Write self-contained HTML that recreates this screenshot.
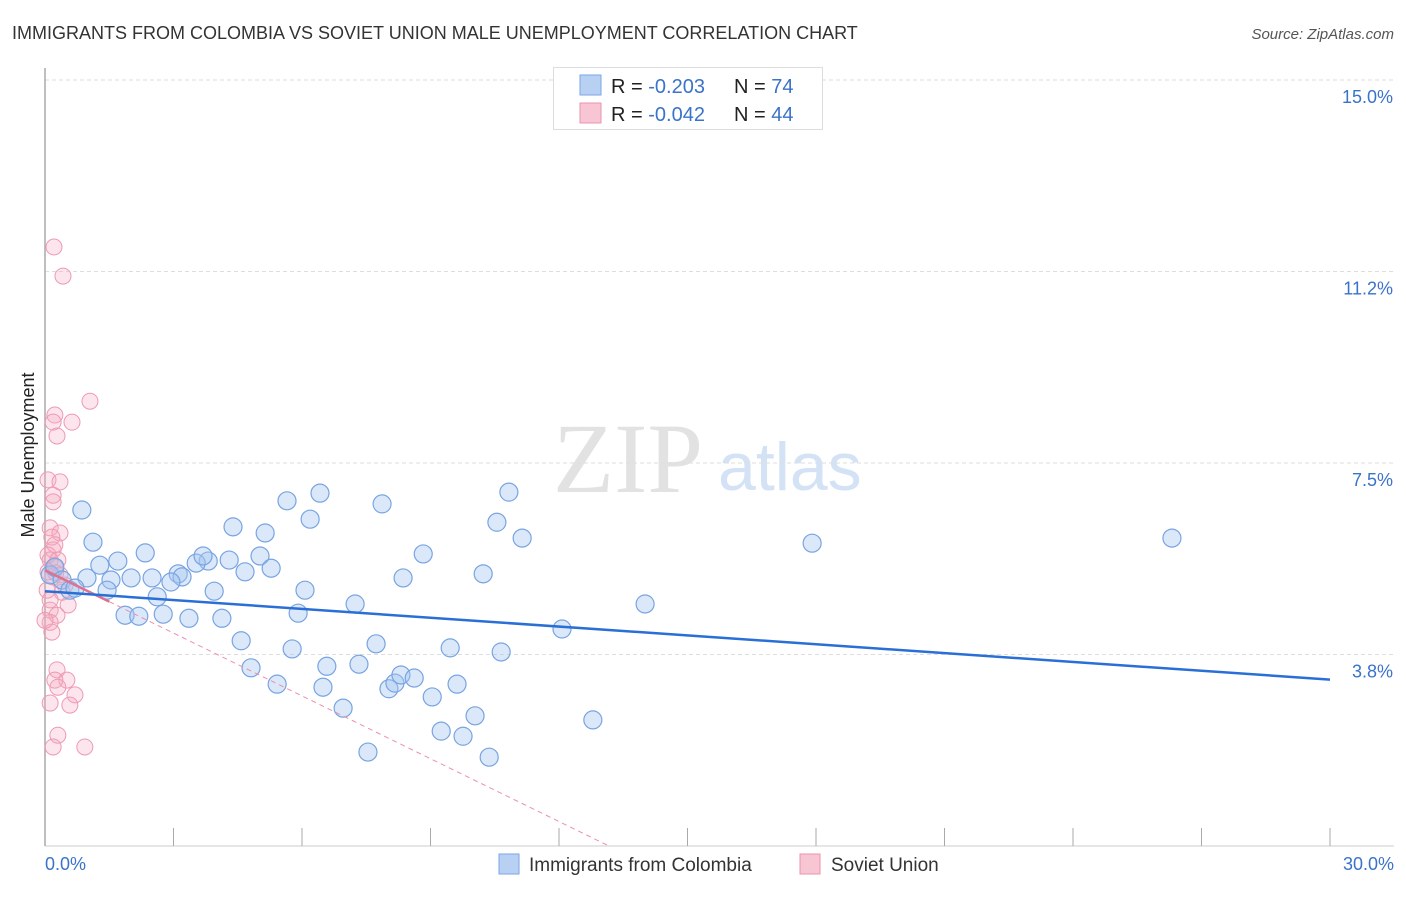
<!DOCTYPE html>
<html><head><meta charset="utf-8"><style>
body{margin:0;background:#fff;font-family:"Liberation Sans",sans-serif;}
svg text{font-family:"Liberation Sans",sans-serif;}
</style></head><body>
<svg id="chart" width="1406" height="892">
<text x="12" y="39" font-size="18" fill="#333">IMMIGRANTS FROM COLOMBIA VS SOVIET UNION MALE UNEMPLOYMENT CORRELATION CHART</text>
<text x="1394" y="39" font-size="15" fill="#555" font-style="italic" text-anchor="end">Source: ZipAtlas.com</text>
<text x="553" y="492" font-size="100" fill="#e2e2e2" style="font-family:'Liberation Serif',serif">ZIP</text>
<text x="718" y="490" font-size="68" fill="#d4e2f5">atlas</text>
<g id="grid"></g>
<line x1="45" y1="68" x2="45" y2="846" stroke="#aaa" stroke-width="1.5"/>
<line x1="45" y1="846" x2="1394" y2="846" stroke="#ccc"/>
<g id="xticks"></g>
<text x="34" y="455" font-size="18" fill="#222" text-anchor="middle" transform="rotate(-90 34 455)">Male Unemployment</text>
<g id="pinkpts"></g><g id="bluepts"></g><g id="lines"></g>
<g>
<rect x="553.5" y="67.5" width="269" height="62" fill="#fff" stroke="#ddd"/>
<rect x="580" y="75" width="21" height="20" fill="#b8d1f3" stroke="#7aa6e6"/>
<text x="611" y="93" font-size="20" fill="#222">R = <tspan fill="#3a73c9">-0.203</tspan></text>
<text x="734" y="93" font-size="20" fill="#222">N = <tspan fill="#3a73c9">74</tspan></text>
<rect x="580" y="103" width="21" height="20" fill="#f7c5d3" stroke="#ee93ad"/>
<text x="611" y="121" font-size="20" fill="#222">R = <tspan fill="#3a73c9">-0.042</tspan></text>
<text x="734" y="121" font-size="20" fill="#222">N = <tspan fill="#3a73c9">44</tspan></text>
</g>
<text x="45" y="870" font-size="18" fill="#3a73c9">0.0%</text>
<text x="1394" y="870" font-size="18" fill="#3a73c9" text-anchor="end">30.0%</text>
<rect x="499" y="854" width="20" height="20" fill="#b8d1f3" stroke="#7aa6e6"/>
<text x="529" y="871" font-size="19" fill="#333">Immigrants from Colombia</text>
<rect x="800" y="854" width="20" height="20" fill="#f7c5d3" stroke="#ee93ad"/>
<text x="831" y="871" font-size="19" fill="#333">Soviet Union</text>
</svg>
<script>
const yTicks=[15.0,11.25,7.5,3.75];
const yTickLabels=["15.0%","11.2%","7.5%","3.8%"];
const xTicks=[0,3,6,9,12,15,18,21,24,27,30];
const blueX=[0.86,1.12,1.28,1.70,2.34,1.54,0.98,2.01,2.50,3.11,3.20,2.94,2.62,1.87,2.19,2.76,3.36,4.13,3.81,3.53,4.30,3.69,4.39,5.14,4.67,5.02,5.28,3.95,5.65,6.19,6.42,6.07,5.91,4.58,4.81,5.42,5.77,6.58,6.49,6.96,7.24,7.33,7.54,7.73,7.87,8.03,8.17,8.31,8.62,8.36,8.83,9.04,9.25,9.46,9.62,9.76,10.04,10.23,10.37,10.55,10.65,10.83,11.14,12.07,12.79,14.01,17.91,26.31,0.12,0.23,0.40,0.58,0.70,1.45];
const blueY=[6.58,5.95,5.50,5.58,5.74,5.21,5.25,5.25,5.25,5.33,5.27,5.17,4.88,4.52,4.50,4.54,4.46,4.46,5.58,5.54,5.60,5.68,6.25,6.13,5.37,5.68,5.44,4.99,6.76,6.40,6.91,5.01,4.56,4.02,3.49,3.17,3.86,3.52,3.11,2.70,4.74,3.56,1.84,3.96,6.70,3.08,3.19,3.35,3.29,5.25,5.72,2.92,2.25,3.88,3.17,2.15,2.55,5.33,1.74,6.34,3.80,6.93,6.03,4.25,2.47,4.74,5.93,6.03,5.31,5.46,5.21,5.01,5.05,5.01];
const pinkX=[0.21,0.42,1.05,0.23,0.19,0.63,0.28,0.07,0.35,0.19,0.19,0.12,0.35,0.16,0.19,0.12,0.23,0.19,0.54,0.12,0.28,0.12,0.16,0.28,0.51,0.23,0.30,0.70,0.12,0.58,0.30,0.19,0.93,0.07,0.35,0.47,0.05,0.40,0.12,0.23,0.07,0.30,0.00,0.25];
const pinkY=[11.73,11.16,8.71,8.44,8.30,8.30,8.03,7.17,7.13,6.87,6.74,6.23,6.13,6.05,5.80,5.60,5.46,5.27,4.72,4.62,4.52,4.38,4.19,3.45,3.25,3.25,3.11,2.96,2.80,2.76,2.17,1.94,1.94,5.37,5.31,5.11,5.01,4.97,4.82,5.90,5.70,5.60,4.42,5.35];
const blueFit=[4.99,-0.0577];
const pinkFit=[5.40,-0.41];
const NS="http://www.w3.org/2000/svg";
const X=v=>45+v*(1285/30);
const Y=v=>80+(15-v)*51.07;
function mk(t,a,p){const e=document.createElementNS(NS,t);for(const k in a)e.setAttribute(k,a[k]);p.appendChild(e);return e;}
const grid=document.getElementById('grid');
yTicks.forEach((t,i)=>{
  const l=mk('line',{x1:45,x2:1394,y1:Y(t),y2:Y(t),stroke:'#ddd','stroke-dasharray':'4,3'},grid);
  
  
  const tx=mk('text',{x:1393,y:Y(t)+23,'font-size':18,fill:'#3a73c9','text-anchor':'end'},grid);
  tx.textContent=yTickLabels[i];
  
  
});
const xt=document.getElementById('xticks');
xTicks.forEach(t=>{
  const l=mk('line',{x1:X(t),x2:X(t),y1:828,y2:846,stroke:'#aaa'},xt);
  
  
});
const pp=document.getElementById('pinkpts');
pinkX.forEach((x,i)=>{
  const c=mk('circle',{cx:X(x),cy:Y(pinkY[i]),r:8,fill:'rgba(244,170,192,0.3)',stroke:'#ee9ab2','stroke-width':1},pp);
  
  
});
const bp=document.getElementById('bluepts');
blueX.forEach((x,i)=>{
  const c=mk('circle',{cx:X(x),cy:Y(blueY[i]),r:9,fill:'rgba(165,198,240,0.4)',stroke:'#78a4e2','stroke-width':1.2},bp);
  
  
});
const lg=document.getElementById('lines');
const px0=-pinkFit[0]/pinkFit[1];
let l1=mk('line',{x1:X(1.5),y1:Y(pinkFit[0]+pinkFit[1]*1.5),x2:X(px0),y2:Y(0),stroke:'#ec8fab','stroke-width':1,'stroke-dasharray':'5,4'},lg);


let l2=mk('line',{x1:X(0),y1:Y(pinkFit[0]),x2:X(1.5),y2:Y(pinkFit[0]+pinkFit[1]*1.5),stroke:'#e0708f','stroke-width':2.5},lg);


let l3=mk('line',{x1:X(0),y1:Y(blueFit[0]),x2:X(30),y2:Y(blueFit[0]+blueFit[1]*30),stroke:'#2a6fd6','stroke-width':2.5},lg);


</script>
</body></html>
